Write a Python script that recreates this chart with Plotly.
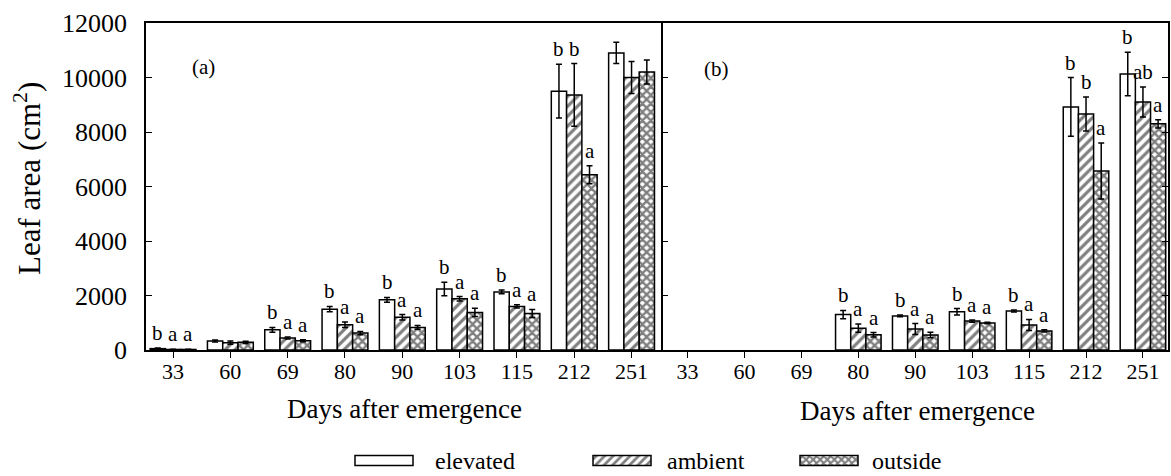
import plotly.graph_objects as go

# Sampling days (days after emergence)
days = ["33", "60", "69", "80", "90", "103", "115", "212", "251"]

# Panel (a): leaf area, cm^2
a_elevated = [50, 330, 740, 1500, 1840, 2240, 2130, 9500, 10900]
a_elevated_err = [20, 40, 90, 100, 90, 250, 70, 990, 390]
a_ambient = [20, 270, 440, 930, 1200, 1880, 1600, 9360, 10000]
a_ambient_err = [10, 60, 40, 100, 100, 80, 60, 1150, 590]
a_outside = [20, 280, 340, 620, 830, 1380, 1340, 6430, 10200]
a_outside_err = [10, 40, 40, 60, 70, 150, 150, 330, 440]

# Panel (b): leaf area, cm^2 (no samples on the first three days)
b_elevated = [None, None, None, 1300, 1250, 1400, 1430, 8920, 10130]
b_elevated_err = [None, None, None, 150, 30, 120, 40, 1080, 800]
b_ambient = [None, None, None, 800, 770, 1060, 920, 8660, 9100]
b_ambient_err = [None, None, None, 150, 200, 40, 200, 620, 550]
b_outside = [None, None, None, 560, 550, 990, 700, 6570, 8300]
b_outside_err = [None, None, None, 80, 100, 30, 40, 1030, 150]

# Significance letters
a_let_elevated = ["b", "", "b", "b", "b", "b", "b", "b", ""]
a_let_ambient = ["a", "", "a", "a", "a", "a", "a", "b", ""]
a_let_outside = ["a", "", "a", "a", "a", "a", "a", "a", ""]
b_let_elevated = ["", "", "", "b", "b", "b", "b", "b", "b"]
b_let_ambient = ["", "", "", "a", "a", "a", "a", "b", "ab"]
b_let_outside = ["", "", "", "a", "a", "a", "a", "a", "a"]

treatments = ["elevated", "ambient", "outside"]
yticks = [0, 2000, 4000, 6000, 8000, 10000, 12000]
ytick_text = ["0", "2000", "4000", "6000", "8000", "10000", "12000"]

W, H = 1171, 476
SERIF = "Liberation Serif"

patterns = {
    "elevated": dict(shape=""),
    "ambient": dict(shape="/", fgcolor="black", bgcolor="white", size=7, solidity=0.45),
    "outside": dict(shape="x", fgcolor="black", bgcolor="white", size=6, solidity=0.65),
}

xs = list(range(len(days)))
fig = go.Figure()


def add_panel(xa, ya, series, errs):
    for name, vals, err in zip(treatments, series, errs):
        fig.add_trace(go.Bar(
            x=xs, y=vals, name=name, xaxis=xa, yaxis=ya, showlegend=False,
            marker=dict(color="white", line=dict(color="black", width=1.5),
                        pattern=patterns[name]),
            error_y=dict(type="data", array=err, visible=True,
                         color="black", thickness=1.5, width=3),
        ))


add_panel("x", "y", [a_elevated, a_ambient, a_outside],
          [a_elevated_err, a_ambient_err, a_outside_err])
add_panel("x2", "y2", [b_elevated, b_ambient, b_outside],
          [b_elevated_err, b_ambient_err, b_outside_err])

annotations = []
bw = 0.8 / 3


def add_letters(xref, yref, series, errs, letters):
    for k, (vals, err, lets) in enumerate(zip(series, errs, letters)):
        for i, (v, e, t) in enumerate(zip(vals, err, lets)):
            if not t or v is None:
                continue
            annotations.append(dict(
                x=i + (k - 1) * bw, y=v + (e or 0), xref=xref, yref=yref,
                text=t, showarrow=False, xanchor="center", yanchor="bottom",
                yshift=1, font=dict(family=SERIF, size=21, color="black"),
            ))


add_letters("x", "y", [a_elevated, a_ambient, a_outside],
            [a_elevated_err, a_ambient_err, a_outside_err],
            [a_let_elevated, a_let_ambient, a_let_outside])
add_letters("x2", "y2", [b_elevated, b_ambient, b_outside],
            [b_elevated_err, b_ambient_err, b_outside_err],
            [b_let_elevated, b_let_ambient, b_let_outside])

# Legend swatches drawn on an overlay axis measured in pixels
sw_left = [355, 593, 800]
sw_len = 58
sw_y = 460.5
fig.add_trace(go.Bar(
    orientation="h", y=[sw_y] * 3, x=[sw_len] * 3, base=sw_left, width=10,
    xaxis="x3", yaxis="y3", showlegend=False, hoverinfo="skip",
    marker=dict(color="white", line=dict(color="black", width=1.5),
                pattern=dict(shape=["", "/", "x"], fgcolor="black", bgcolor="white",
                             size=[8, 6, 5], solidity=[0.3, 0.45, 0.65])),
))
text_left = [433, 665, 870]
for name, tx in zip(treatments, text_left):
    annotations.append(dict(
        x=tx / W, y=1 - 461 / H, xref="paper", yref="paper", text=name,
        showarrow=False, xanchor="left", yanchor="middle",
        font=dict(family=SERIF, size=24, color="black"),
    ))

# Axis titles and panel labels
mid = dict(xref="paper", yref="paper", showarrow=False,
           xanchor="center", yanchor="middle")
annotations += [
    dict(x=404 / W, y=1 - 409 / H, text="Days after emergence",
         font=dict(family=SERIF, size=27, color="black"), **mid),
    dict(x=917 / W, y=1 - 411 / H, text="Days after emergence",
         font=dict(family=SERIF, size=27, color="black"), **mid),
    dict(x=27 / W, y=1 - 179 / H, text="Leaf area (cm<sup>2</sup>)", textangle=-90,
         font=dict(family=SERIF, size=31, color="black"), **mid),
    dict(x=203 / W, y=1 - 67 / H, text="(a)",
         font=dict(family=SERIF, size=21, color="black"), **mid),
    dict(x=716 / W, y=1 - 69 / H, text="(b)",
         font=dict(family=SERIF, size=21, color="black"), **mid),
]

y_top = 1 - 23 / H
y_bot = 1 - 350 / H
x_split = 662.5 / W

common_x = dict(tickvals=xs, ticktext=days, ticks="outside", ticklen=6, tickwidth=1.3,
                tickcolor="black", showline=True, linecolor="black", linewidth=1.5,
                mirror=True, showgrid=False, zeroline=False, automargin=False,
                tickfont=dict(family=SERIF, size=22, color="black"),
                ticklabelstandoff=-5, fixedrange=True)

fig.update_layout(
    width=W, height=H,
    margin=dict(l=0, r=0, t=0, b=0, autoexpand=False),
    paper_bgcolor="white", plot_bgcolor="rgba(0,0,0,0)",
    font=dict(family=SERIF, color="black"),
    barmode="group", bargap=0.2, bargroupgap=0,
    xaxis=dict(domain=[146 / W, x_split], range=[-0.472, 8.54], anchor="y", **common_x),
    xaxis2=dict(domain=[x_split, 1168 / W], range=[-0.44, 8.44], anchor="y2", **common_x),
    yaxis=dict(domain=[y_bot, y_top], range=[0, 12000], tickvals=yticks,
               ticktext=ytick_text,
               ticks="inside", ticklen=6, tickwidth=1.3, tickcolor="black",
               showline=True, linecolor="black", linewidth=1.5, mirror=False,
               showgrid=False, zeroline=False, anchor="x", automargin=False,
               tickfont=dict(family=SERIF, size=26, color="black"),
               ticklabelstandoff=12, fixedrange=True),
    yaxis2=dict(domain=[y_bot, y_top], range=[0, 12000], tickvals=yticks,
                ticks="inside", ticklen=6, tickwidth=1.3, tickcolor="black",
                showline=True, linecolor="black", linewidth=1.5, mirror="ticks",
                showticklabels=False, showgrid=False, zeroline=False, anchor="x2",
                automargin=False, fixedrange=True),
    xaxis3=dict(domain=[0, 1], range=[0, W], visible=False, anchor="y3",
                automargin=False, fixedrange=True),
    yaxis3=dict(domain=[0, 1], range=[H, 0], visible=False, anchor="x3",
                automargin=False, fixedrange=True),
    annotations=annotations,
)

fig.write_html("out.html")
